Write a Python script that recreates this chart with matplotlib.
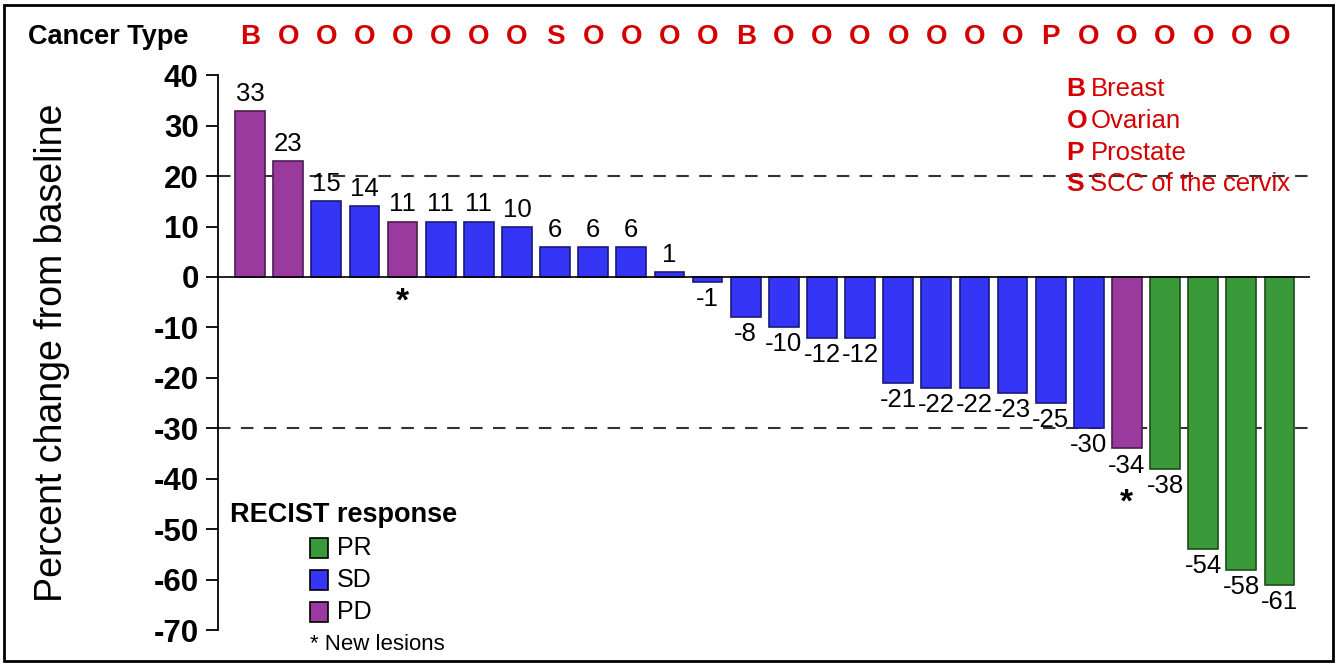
import matplotlib.pyplot as plt
from matplotlib.patches import Rectangle

plt.rcParams['font.family'] = ['Liberation Sans', 'DejaVu Sans']
plt.rcParams['axes.unicode_minus'] = False

# data
values = [33, 23, 15, 14, 11, 11, 11, 10, 6, 6, 6, 1, -1, -8, -10, -12, -12,
          -21, -22, -22, -23, -25, -30, -34, -38, -54, -58, -61]
response = ['PD', 'PD', 'SD', 'SD', 'PD', 'SD', 'SD', 'SD', 'SD', 'SD', 'SD',
            'SD', 'SD', 'SD', 'SD', 'SD', 'SD', 'SD', 'SD', 'SD', 'SD', 'SD',
            'SD', 'PD', 'PR', 'PR', 'PR', 'PR']
cancer = ['B', 'O', 'O', 'O', 'O', 'O', 'O', 'O', 'S', 'O', 'O', 'O', 'O',
          'B', 'O', 'O', 'O', 'O', 'O', 'O', 'O', 'P', 'O', 'O', 'O', 'O',
          'O', 'O']
new_lesions = [4, 23]
cancer_names = [('B', 'Breast'), ('O', 'Ovarian'), ('P', 'Prostate'),
                ('S', 'SCC of the cervix')]
colors = {'PR': '#3a9a3a', 'SD': '#3535f5', 'PD': '#9a3a9e'}
edges = {'PR': '#1d4d1d', 'SD': '#1a1a7a', 'PD': '#4d1d4f'}

fig = plt.figure(figsize=(13.38, 6.66), dpi=100)
ax = fig.add_axes([0.163, 0.054, 0.816, 0.833])

x = list(range(len(values)))
ax.bar(x, values, width=0.78, color=[colors[r] for r in response],
       edgecolor=[edges[r] for r in response], linewidth=1.2, zorder=2)

for i, v in enumerate(values):
    if v >= 0:
        ax.text(i, v + 1.0, str(v), ha='center', va='bottom', fontsize=18.5)
    else:
        ax.text(i, v - 1.0, str(v), ha='center', va='top', fontsize=18.5)

for i in new_lesions:
    if values[i] >= 0:
        ax.text(i, -1.8, '*', ha='center', va='top', fontsize=24, fontweight='bold')
    else:
        ax.text(i, values[i] - 7.8, '*', ha='center', va='top', fontsize=24,
                fontweight='bold')

ax.axhline(0, color='black', linewidth=1.2, zorder=3)
ax.axhline(20, color='#333333', linewidth=1.5, linestyle=(0, (6, 5)), zorder=1)
ax.axhline(-30, color='#333333', linewidth=1.5, linestyle=(0, (6, 5)), zorder=1)

ax.set_xlim(-0.84, 27.8)
ax.set_ylim(-70, 40)
ax.set_yticks(range(-70, 41, 10))
ax.tick_params(axis='y', labelsize=22.5, length=9, width=1.3, direction='out', pad=5)
for lab in ax.get_yticklabels():
    lab.set_fontweight('bold')
ax.set_xticks([])
for s in ['top', 'right', 'bottom']:
    ax.spines[s].set_visible(False)
ax.spines['left'].set_linewidth(1.3)
ax.set_ylabel('Percent change from baseline', fontsize=27)
ax.yaxis.set_label_coords(-0.136, 0.5)

# cancer type row
fig.text(0.021, 0.944, 'Cancer Type', fontsize=19.5, fontweight='bold', va='center')
for i, c in enumerate(cancer):
    ax.text(i, 47.5, c, ha='center', va='center', fontsize=20, fontweight='bold',
            color='#d40000', clip_on=False)

# cancer legend (top right)
for k, (abbr, name) in enumerate(cancer_names):
    yy = 0.867 - k * 0.048
    fig.text(0.797, yy, abbr, fontsize=19, fontweight='bold', color='#d40000', va='center')
    fig.text(0.815, yy, name, fontsize=18.5, color='#d40000', va='center')

# RECIST legend (bottom left)
fig.text(0.172, 0.226, 'RECIST response', fontsize=19.5, fontweight='bold', va='center')
for k, r in enumerate(['PR', 'SD', 'PD']):
    yy = 0.177 - k * 0.048
    fig.patches.append(Rectangle((0.2315, yy - 0.0145), 0.0135, 0.029,
                                 transform=fig.transFigure, facecolor=colors[r],
                                 edgecolor='black', linewidth=1.2))
    fig.text(0.252, yy, r, fontsize=18, va='center')
fig.text(0.232, 0.032, '* New lesions', fontsize=16, va='center')

# outer frame
fig.patches.append(Rectangle((0.003, 0.008), 0.993, 0.985, transform=fig.transFigure,
                             fill=False, edgecolor='black', linewidth=2))

fig.savefig('out.png', dpi=100)
